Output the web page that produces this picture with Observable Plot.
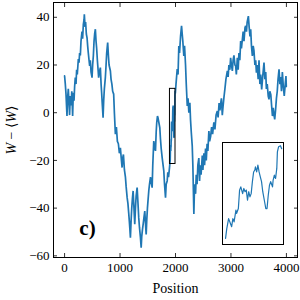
<!DOCTYPE html>
<html><head><meta charset="utf-8">
<script src="https://cdn.jsdelivr.net/npm/d3@7"></script>
<script src="https://cdn.jsdelivr.net/npm/@observablehq/plot@0.6"></script>
<style>
html,body{margin:0;padding:0;background:#fff;}
#wrap{position:relative;width:300px;height:300px;overflow:hidden;background:#fff;}
#inset{position:absolute;left:221px;top:141px;}
svg{display:block}
</style></head><body><div id="wrap"><div id="main"></div><div id="inset"></div></div>
<script>
// Random-walk profile W − <W> vs position
const walkA = [[0,15.4],[13,12],[25,8],[43,-1.4],[54,6],[67,10],[80,4],[90,-1],[103,7],[116,3],[130,9],[145,-1.4],[157,8.4],[170,5],[181,11],[193,14.7],[206,12],[217,18],[229,16],[248,22.5],[260,21],[271,25],[284,24],[296,30],[314,34],[325,31],[338,37],[351,39],[356,41.3],[369,36],[379,38],[392,33],[405,31.4],[416,28],[428,25],[441,22],[452,19.6],[464,22],[477,17],[495,14.7],[506,20],[519,24],[531,30],[542,33],[555,35],[567,30],[578,27],[591,22],[604,18],[614,14.7],[627,17],[645,18.9],[658,12],[669,8],[681,3],[694,-2.1],[705,5],[717,10],[735,14.7],[748,20],[759,25],[777,29.4],[790,24],[802,20],[826,17.5],[838,14],[853,12],[867,9],[885,7.8],[898,0],[916,-9],[934,-6],[952,-12],[970,-13],[988,-17],[1006,-14.7]];
const walkB = [[1025,-20],[1037,-23],[1048,-19],[1061,-17.5],[1079,-24],[1097,-27],[1110,-31],[1128,-35.6],[1142,-38],[1156,-42],[1169,-46],[1178,-49],[1187,-52.4],[1200,-45],[1211,-40],[1223,-36],[1236,-32.8],[1247,-38],[1265,-46.7],[1278,-40],[1290,-35],[1308,-31.4],[1319,-36],[1337,-44],[1350,-48],[1368,-52.4],[1381,-56.6],[1391,-52],[1404,-49],[1417,-46.7],[1431,-44],[1446,-41.2],[1458,-46],[1471,-51],[1482,-45],[1494,-40],[1507,-36],[1518,-32.8],[1531,-30],[1549,-27],[1561,-29],[1579,-31.4],[1590,-22],[1608,-11.9],[1621,-14],[1639,-16],[1652,-8],[1662,-4],[1675,-1.4],[1684,-2.1],[1699,-4],[1717,-6.3],[1729,-11],[1742,-15],[1760,-18.9],[1771,-21],[1789,-24.4],[1802,-30],[1820,-35.6],[1832,-30],[1850,-28.6],[1861,-25],[1874,-27],[1892,-23]];
const walkZoom = [[1905,-19.6],[1907,-16.6],[1910,-13.5],[1913,-15],[1915,-16],[1917,-13.5],[1919,-14.5],[1922,-10.9],[1923,-11.9],[1926,-10.4],[1928,-4.7],[1930,-3.7],[1933,-5.8],[1935,-4.2],[1937,-5.2],[1939,-4.7],[1941,-7.8],[1943,-5.2],[1945,-6.8],[1947,-5.8],[1949,-2.1],[1951,0.9],[1953,1.5],[1954,2.5],[1956,0.9],[1958,3],[1960,0.9],[1962,-0.6],[1964,-2.1],[1966,-5.2],[1969,-8.3],[1971,-10.4],[1973,-10.4],[1975,-6.3],[1977,-3.2],[1979,-2.1],[1982,-3.7],[1983,-1.6],[1985,-0.1],[1987,-1.1],[1989,2],[1990,7.1],[1992,8.7],[1995,9],[1997,8.1]];
const walkC = [[2009,12],[2031,18.3],[2046,16],[2060,28],[2073,25],[2091,32],[2109,36.4],[2121,33],[2132,30],[2150,23.8],[2163,28],[2181,20],[2194,12],[2212,2.8],[2226,6],[2241,0],[2259,4.2],[2271,-3],[2284,-8],[2302,-14],[2313,-22],[2331,-42.5],[2344,-30],[2362,-34],[2374,-26],[2389,-30],[2403,-22],[2421,-19],[2434,-28.6],[2447,-22],[2461,-26],[2483,-18],[2494,-24],[2512,-17],[2524,-22],[2542,-15],[2555,-20],[2570,-13],[2584,-16],[2602,-7.7],[2615,-12],[2633,-10],[2651,-6],[2669,-9],[2692,-4],[2711,-7],[2732,-1],[2754,0.7],[2768,-2],[2786,4],[2801,1],[2813,3.6],[2828,6],[2844,-1],[2859,3],[2873,6.3],[2891,10],[2909,14],[2935,17.5],[2949,15],[2963,20],[2980,18],[2994,23],[3009,20],[3025,17.5],[3039,22],[3054,24],[3072,20],[3085,19.6],[3097,16],[3115,23],[3130,18],[3144,25],[3160,22],[3175,30],[3189,27],[3206,30.8],[3220,34],[3235,30],[3253,35.6],[3265,36.4],[3280,34],[3292,38],[3314,40.5],[3328,36],[3343,32],[3356,35],[3370,28],[3386,23.8],[3401,28],[3415,26],[3432,20],[3446,22],[3459,16.8],[3473,20],[3491,14],[3506,22],[3522,12],[3536,16],[3554,9.8],[3572,15],[3596,21],[3612,14],[3627,17],[3639,10],[3654,12],[3672,7],[3686,5.6],[3701,9],[3719,7.5],[3733,3],[3748,-1.4],[3762,2],[3777,-1],[3789,-2.8],[3804,1],[3820,6],[3835,9],[3849,14],[3867,18.2],[3883,12],[3897,15],[3911,9],[3927,17],[3944,11],[3961,7],[3979,12],[3992,15.4],[3998,11]];

const xTicks = [0, 1000, 2000, 3000, 4000];
const yTicks = [-60, -40, -20, 0, 20, 40];
const xDomain = [-200, 4200];
const yDomain = [-60.7, 46.2];
const zoomX = [1900, 2000];
const zoomY = [-21.5, 10];
const xLabel = "Position";
const yLabelParts = [["W", true], [" − ⟨", false], ["W", true], ["⟩", false]];
const panelLabel = "c)";

const walk = [...walkA, ...walkB, ...walkZoom, ...walkC];
const zoomBox = [{x1: zoomX[0], x2: zoomX[1], y1: zoomY[0], y2: zoomY[1]}];
const blue = "#1f77b4";
const font = "'Liberation Serif', 'DejaVu Serif', serif";
const fmt = d3.format("d");

const main = Plot.plot({
  width: 300, height: 300,
  marginLeft: 53, marginRight: 3, marginTop: 2, marginBottom: 43,
  style: {fontFamily: font, fontSize: "13px", background: "transparent", color: "black"},
  x: {domain: xDomain},
  y: {domain: yDomain},
  marks: [
    Plot.line(walk, {x: d => d[0], y: d => d[1], stroke: blue, strokeWidth: 1.7, strokeLinejoin: "miter"}),
    Plot.rect(zoomBox, {x1: "x1", x2: "x2", y1: "y1", y2: "y2", stroke: "black", fill: "none", strokeWidth: 1}),
    Plot.text([panelLabel], {frameAnchor: "bottom-left", dx: 34, dy: -29, fontSize: 21, fontWeight: "bold", textAnchor: "middle", lineAnchor: "middle", fill: "black"}),
    Plot.axisX(xTicks, {anchor: "bottom", tickSize: -4, tickPadding: 9, stroke: "#333", tickFormat: fmt, label: xLabel, labelAnchor: "center", labelArrow: "none", labelOffset: 35, fontSize: 13}),
    Plot.axisX(xTicks, {anchor: "top", tickSize: -4, tickFormat: () => "", label: null, stroke: "#333"}),
    Plot.axisY(yTicks, {anchor: "left", tickSize: -4, tickPadding: 8, stroke: "#333", tickFormat: fmt, label: "W", labelAnchor: "center", labelArrow: "none", labelOffset: 47, fontSize: 13}),
    Plot.axisY(yTicks, {anchor: "right", tickSize: -4, tickFormat: () => "", label: null, stroke: "#333"}),
    Plot.frame({stroke: "black", strokeWidth: 1})
  ]
});
document.getElementById("main").appendChild(main);

// italic W in the y label
const yl = main.querySelector('g[aria-label="y-axis label"] text');
if (yl) {
  yl.textContent = "";
  yl.setAttribute("font-size", "14");
  for (const [s, it] of yLabelParts) {
    const t = document.createElementNS("http://www.w3.org/2000/svg", "tspan");
    t.textContent = s;
    if (it) t.setAttribute("font-style", "italic");
    yl.appendChild(t);
  }
}
const xl = main.querySelector('g[aria-label="x-axis label"] text');
if (xl) xl.setAttribute("font-size", "14");

const inset = Plot.plot({
  width: 63, height: 104, margin: 1,
  style: {background: "white"},
  x: {domain: zoomX, axis: null},
  y: {domain: zoomY, axis: null},
  marks: [
    Plot.line(walkZoom, {x: d => d[0], y: d => d[1], stroke: blue, strokeWidth: 1.2}),
    Plot.frame({stroke: "black", strokeWidth: 1})
  ]
});
document.getElementById("inset").appendChild(inset);
</script>
</body></html>
